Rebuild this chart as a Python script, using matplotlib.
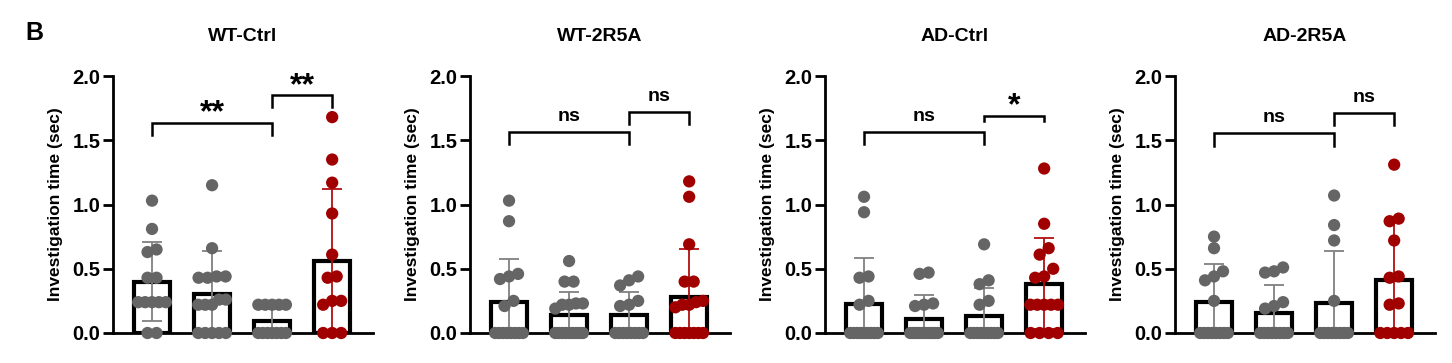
import numpy as np
import matplotlib
matplotlib.use("Agg")
from matplotlib import pyplot as plt

plt.rcParams['font.family'] = ['Liberation Sans', 'DejaVu Sans']
plt.rcParams['font.weight'] = 'bold'

# panel titles
titles = ['WT-Ctrl', 'WT-2R5A', 'AD-Ctrl', 'AD-2R5A']

# individual points, 4 groups per panel (last group is the red one)
wt_ctrl = [
    [0, 0, 0.24, 0.24, 0.24, 0.24, 0.24, 0.43, 0.43, 0.63, 0.65, 0.81, 1.03],
    [0, 0, 0, 0, 0, 0.22, 0.22, 0.22, 0.26, 0.26, 0.43, 0.43, 0.44, 0.44, 0.66, 1.15],
    [0, 0, 0, 0, 0, 0, 0, 0.22, 0.22, 0.22, 0.22, 0.22],
    [0, 0, 0, 0.22, 0.25, 0.25, 0.43, 0.44, 0.61, 0.93, 1.17, 1.35, 1.68],
]
wt_2r5a = [
    [0, 0, 0, 0, 0, 0, 0, 0, 0.21, 0.25, 0.42, 0.44, 0.46, 0.87, 1.03],
    [0, 0, 0, 0, 0, 0, 0, 0, 0, 0.19, 0.22, 0.22, 0.23, 0.23, 0.40, 0.40, 0.56],
    [0, 0, 0, 0, 0, 0, 0, 0, 0.21, 0.22, 0.25, 0.37, 0.41, 0.44],
    [0, 0, 0, 0, 0, 0, 0, 0.20, 0.22, 0.22, 0.24, 0.25, 0.40, 0.40, 0.69, 1.06, 1.18],
]
ad_ctrl = [
    [0, 0, 0, 0, 0, 0, 0, 0, 0, 0.22, 0.25, 0.43, 0.44, 0.94, 1.06],
    [0, 0, 0, 0, 0, 0, 0, 0, 0, 0, 0.21, 0.22, 0.23, 0.46, 0.47],
    [0, 0, 0, 0, 0, 0, 0, 0, 0, 0.22, 0.25, 0.38, 0.41, 0.69],
    [0, 0, 0, 0, 0.22, 0.22, 0.22, 0.22, 0.22, 0.43, 0.44, 0.50, 0.61, 0.66, 0.85, 1.28],
]
ad_2r5a = [
    [0, 0, 0, 0, 0, 0, 0, 0, 0.25, 0.41, 0.44, 0.48, 0.66, 0.75],
    [0, 0, 0, 0, 0, 0, 0, 0, 0.19, 0.21, 0.24, 0.47, 0.48, 0.51],
    [0, 0, 0, 0, 0, 0, 0, 0, 0.25, 0.72, 0.84, 1.07],
    [0, 0, 0, 0, 0, 0.22, 0.23, 0.43, 0.44, 0.72, 0.87, 0.89, 1.31],
]
points = [wt_ctrl, wt_2r5a, ad_ctrl, ad_2r5a]

# bar heights (mean) and error (SD)
means = [
    [0.40, 0.30, 0.09, 0.56],
    [0.245, 0.137, 0.14, 0.277],
    [0.226, 0.109, 0.135, 0.383],
    [0.239, 0.158, 0.233, 0.415],
]
sds = [
    [0.31, 0.335, 0.10, 0.56],
    [0.33, 0.182, 0.176, 0.378],
    [0.36, 0.184, 0.215, 0.355],
    [0.295, 0.212, 0.403, 0.455],
]

# significance brackets: (group a, group b, height, leg drop, label)
brackets = [
    [(0, 2, 1.635, 0.095, '**'), (2, 3, 1.85, 0.095, '**')],
    [(0, 2, 1.565, 0.095, 'ns'), (2, 3, 1.72, 0.09, 'ns')],
    [(0, 2, 1.565, 0.095, 'ns'), (2, 3, 1.69, 0.04, '*')],
    [(0, 2, 1.553, 0.095, 'ns'), (2, 3, 1.71, 0.093, 'ns')],
]

gray = '#656565'
gray_err = '#808080'
red = '#a00000'
red_err = '#b01010'


def swarm_offsets(vals, dy=0.08, step=0.15, maxspan=0.46):
    # put points of nearly equal value side by side
    vals = np.asarray(vals, dtype=float)
    order = np.argsort(vals, kind='stable')
    offs = np.zeros(len(vals))
    rows = []
    for i in order:
        if rows and vals[i] - vals[rows[-1][0]] < dy:
            rows[-1].append(i)
        else:
            rows.append([i])
    for row in rows:
        k = len(row)
        if k == 1:
            continue
        sp = min(step, maxspan / (k - 1))
        for j, i in enumerate(row):
            offs[i] = (j - (k - 1) / 2) * sp
    return offs


fig = plt.figure(figsize=(14.52, 3.63), dpi=100)
W, H = 1452.0, 363.0
spine_px = [113, 470, 825, 1175]
ax_w = 260 / W
ax_b = 1 - 333 / H
ax_h = (333 - 76) / H

fig.text(25 / W, 1 - 33 / H, 'B', fontsize=18, fontweight='bold', va='center', ha='left')

for p in range(4):
    ax = fig.add_axes([spine_px[p] / W, ax_b, ax_w, ax_h])
    xs = np.arange(4)
    cols = [gray, gray, gray, red]
    ecols = [gray_err, gray_err, gray_err, red_err]

    ax.bar(xs, means[p], width=0.6, color='white', edgecolor='black', linewidth=3, zorder=1)
    for g in range(4):
        ax.errorbar(xs[g], means[p][g], yerr=sds[p][g], fmt='none', ecolor=ecols[g],
                    elinewidth=1.3, capsize=7, capthick=1.3, zorder=2)
        vals = points[p][g]
        offs = swarm_offsets(vals)
        ax.scatter(xs[g] + offs, vals, s=78, color=cols[g], edgecolors='none',
                   zorder=3, clip_on=False)

    for a, b, yt, drop, lab in brackets[p]:
        ax.plot([xs[a], xs[a], xs[b], xs[b]], [yt - drop, yt, yt, yt - drop],
                color='black', lw=1.8, clip_on=False, zorder=4, solid_joinstyle='miter')
        if lab == 'ns':
            ax.annotate(lab, xy=((xs[a] + xs[b]) / 2, yt), xytext=(0, 8),
                        textcoords='offset points', ha='center', va='baseline',
                        fontsize=14, fontweight='bold', annotation_clip=False)
        else:
            ax.annotate(lab, xy=((xs[a] + xs[b]) / 2, yt), xytext=(0, 1),
                        textcoords='offset points', ha='center', va='baseline',
                        fontsize=23, fontweight='bold', annotation_clip=False)

    ax.set_xlim(-0.65, 3.68)
    ax.set_ylim(0, 2.0)
    ax.set_yticks([0, 0.5, 1.0, 1.5, 2.0])
    ax.set_yticklabels(['0.0', '0.5', '1.0', '1.5', '2.0'], fontsize=14.5, fontweight='bold')
    ax.set_xticks([])
    ax.spines['top'].set_visible(False)
    ax.spines['right'].set_visible(False)
    ax.spines['left'].set_linewidth(2)
    ax.spines['bottom'].set_linewidth(2)
    ax.spines['bottom'].set_zorder(2.5)
    ax.tick_params(axis='y', length=7, width=2, pad=2)
    ax.set_ylabel('Investigation time (sec)', fontsize=12.5, fontweight='bold', labelpad=7)
    ax.patch.set_alpha(0)
    ax.text(0.5, 1.152, titles[p], transform=ax.transAxes, ha='center', va='center',
            fontsize=14, fontweight='bold')

plt.savefig('out.png', dpi=100)
